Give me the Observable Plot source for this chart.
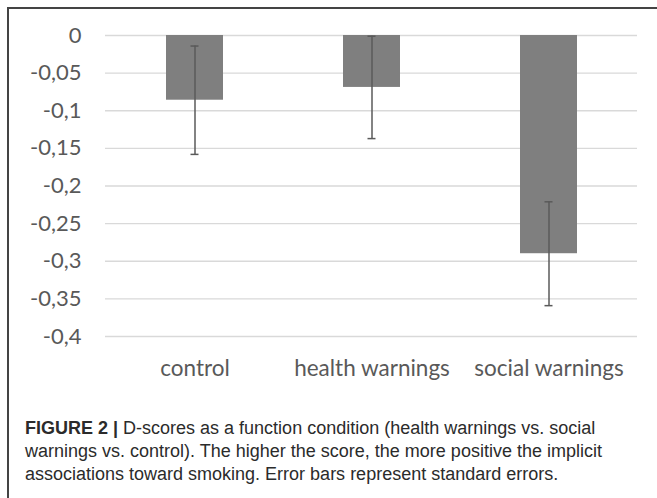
<!DOCTYPE html>
<html>
<head>
<meta charset="utf-8">
<script src="https://cdn.jsdelivr.net/npm/d3@7"></script>
<script src="https://cdn.jsdelivr.net/npm/@observablehq/plot@0.6"></script>
<style>
  html, body { margin: 0; padding: 0; background: #fff; }
  body { width: 657px; height: 498px; position: relative; overflow: hidden; }
  #frame { position: absolute; left: 7px; top: 7px; right: -10px; bottom: -10px;
           border-left: 2px solid #444; border-top: 2px solid #444; }
  #chart { position: absolute; left: 0; top: 0; }
  #caption { position: absolute; left: 25px; top: 417px; font-family: "Liberation Sans", Arial, sans-serif;
             font-size: 18px; line-height: 23px; color: #2b2b2b; white-space: nowrap; }
  #caption b { font-weight: bold; }
</style>
</head>
<body>
<div id="frame"></div>
<div id="chart"></div>
<div id="caption"><b>FIGURE 2 |</b> D-scores as a function condition (health warnings vs. social<br>warnings vs. control). The higher the score, the more positive the implicit<br>associations toward smoking. Error bars represent standard errors.</div>
<script>
const categories = ["control", "health warnings", "social warnings"];
const means = [-0.086, -0.069, -0.29];
const errors = [0.072, 0.068, 0.069];
const yTicks = [0, -0.05, -0.1, -0.15, -0.2, -0.25, -0.3, -0.35, -0.4];

const data = categories.map((c, i) => ({
  category: c, mean: means[i], lo: means[i] - errors[i], hi: means[i] + errors[i]
}));

const fmt = d => String(d).replace(".", ",");

const chart = Plot.plot({
  width: 657,
  height: 400,
  marginLeft: 105,
  marginRight: 20,
  marginTop: 35,
  marginBottom: 64,
  style: { fontFamily: "Lato, 'Open Sans', sans-serif", fontSize: "22px", color: "#595959", background: "transparent" },
  x: { domain: categories, paddingInner: 0.68, paddingOuter: 0.34, label: null },
  y: { domain: [-0.4, 0], label: null },
  marks: [
    Plot.ruleY(yTicks, { stroke: "#d9d9d9", strokeWidth: 1.3 }),
    Plot.barY(data, { x: "category", y1: 0, y2: "mean", fill: "#7f7f7f" }),
    Plot.ruleX(data, { x: "category", y1: "lo", y2: "hi", stroke: "#5a5a5a", strokeWidth: 1.5 }),
    Plot.tickY(data, { x: "category", y: "lo", stroke: "#5a5a5a", strokeWidth: 1.5, inset: 24.5 }),
    Plot.tickY(data, { x: "category", y: "hi", stroke: "#5a5a5a", strokeWidth: 1.5, inset: 24.5 }),
    Plot.axisY({ ticks: yTicks, tickFormat: fmt, tickSize: 0, tickPadding: 24, label: null, fontSize: 22, fill: "#595959" }),
    Plot.axisX({ tickSize: 0, tickPadding: 24, label: null, fontSize: 22.5, fill: "#595959" })
  ]
});
document.getElementById("chart").appendChild(chart);
</script>
</body>
</html>
